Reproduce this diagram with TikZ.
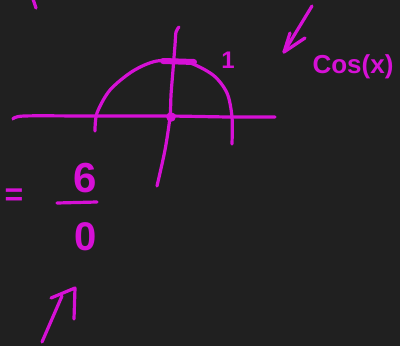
\documentclass[tikz,border=0pt]{standalone}
\usepackage{fontspec}
\setmainfont{Liberation Sans}
\definecolor{board}{RGB}{32,32,32}
\definecolor{ink}{RGB}{214,16,214}
\tikzset{
  pen/.style={draw=ink, line width=3.2pt, line cap=round, line join=round},
  fatpen/.style={draw=ink, line width=6pt, line cap=round},
  handtext/.style={text=ink, inner sep=0pt, font=\bfseries\fontsize{#1}{#1}\selectfont},
}
\begin{document}
\begin{tikzpicture}[x=1pt,y=-1pt]
\fill[board] (0,0) rectangle (400,346);
\useasboundingbox (0,0) rectangle (400,346);
% stray stroke top-left
\draw[pen] (33,-1) -- (36,8);
% horizontal axis
\draw[pen] plot[smooth] coordinates {(13,119) (24,116) (90,116) (167,116) (230,117) (275,117)};
% vertical axis
\draw[pen] plot[smooth] coordinates {(179,27) (176,32) (175,45) (173,70) (171,95) (170,117) (165,150) (157,186)};
% semicircle arc
\draw[pen] plot[smooth] coordinates {(95,131) (97,113) (110,90) (133,71) (157,61) (187,62) (213,75) (227,93) (232,117) (232,144)};
% tick at top of arc
\draw[fatpen] (163,61) -- (194,62);
% dot at origin
\fill[ink] (171,117) circle (4.8);
% label 1
\node[handtext=24] (one) at (228,60) {1};
% arrow top right
\coordinate (atail) at (312,6);
\coordinate (atip) at (284,52);
\coordinate (aleft) at (290,33);
\coordinate (aright) at (305,38);
\draw[pen] (atail) -- (atip);
\draw[pen] (aleft) -- (atip) -- (aright);
% cos(x)
\node[handtext=26] (cosx) at (353,67) {Cos(x)};
% = 6/0
\node[handtext=32] (eq) at (14,197) {=};
\node[handtext=42] (num) at (85,178) {6};
\coordinate (barl) at (57,203);
\coordinate (barr) at (97,202);
\draw[pen] (barl) -- (barr);
\node[handtext=40] (den) at (86,237) {0};
% arrow bottom left
\coordinate (btail) at (42,342);
\coordinate (btip) at (62,296);
\coordinate (bhl) at (51,298);
\coordinate (bhc) at (75,288);
\coordinate (bhr) at (74,319);
\draw[pen] (btail) -- (btip);
\draw[pen] (bhl) -- (bhc) -- (bhr);
\end{tikzpicture}
\end{document}
